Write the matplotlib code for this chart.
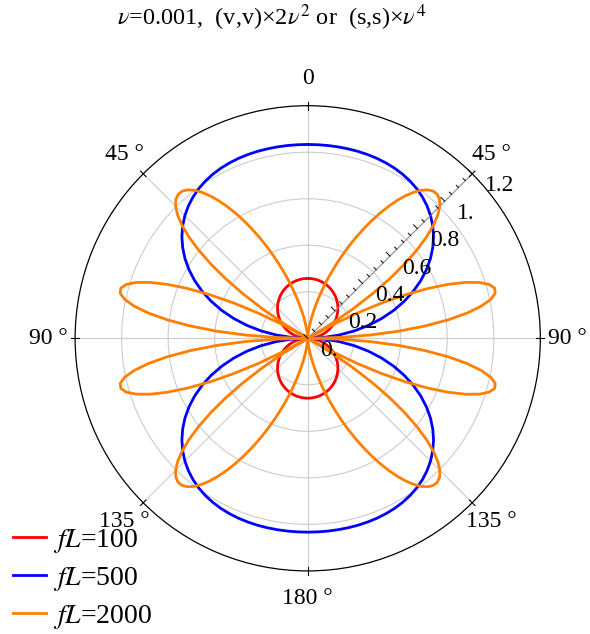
import numpy as np
import matplotlib
matplotlib.use("Agg")
import matplotlib.pyplot as plt
import matplotlib.transforms as mtransforms

plt.rcParams['font.family'] = ['Liberation Serif', 'DejaVu Serif']
plt.rcParams['mathtext.fontset'] = 'stix'

# angle from the vertical (deg), one quadrant; the pattern is symmetric
theta_coarse = list(np.arange(0, 90.1, 3.0))
theta_fine = list(np.arange(0, 90.1, 1.5))
# radius, fL=100 / 500 (3 deg steps) and fL=2000 (1.5 deg steps)
r_100 = [0.3090, 0.3086, 0.3074, 0.3053, 0.3025, 0.2988, 0.2944, 0.2891, 0.2831, 0.2763,
         0.2687, 0.2604, 0.2514, 0.2417, 0.2313, 0.2203, 0.2087, 0.1964, 0.1836, 0.1703,
         0.1564, 0.1421, 0.1274, 0.1124, 0.0969, 0.0812, 0.0653, 0.0491, 0.0328, 0.0164, 0.0]
r_500 = [1.0, 1.0, 1.0, 0.9998, 0.9994, 0.9986, 0.9970, 0.9946, 0.9908, 0.9854,
         0.9779, 0.9681, 0.9553, 0.9394, 0.9197, 0.8960, 0.8679, 0.8353, 0.7976, 0.7550,
         0.7071, 0.6542, 0.5963, 0.5337, 0.4666, 0.3954, 0.3208, 0.2433, 0.1635, 0.0821, 0.0]
r_2000 = [0.0, 0.0022, 0.0086, 0.0194, 0.0344, 0.0537, 0.0773, 0.1050, 0.1369, 0.1727,
          0.2124, 0.2559, 0.3027, 0.3527, 0.4053, 0.4603, 0.5169, 0.5746, 0.6325, 0.6899,
          0.7458, 0.7992, 0.8489, 0.8935, 0.9320, 0.9631, 0.9855, 0.9979, 0.9991, 0.9881,
          0.9639, 0.9259, 0.8736, 0.8070, 0.7261, 0.6314, 0.5241, 0.4052, 0.2768, 0.1409,
          0.0, 0.1430, 0.2851, 0.4229, 0.5530, 0.6722, 0.7770, 0.8645, 0.9320, 0.9772,
          0.9985, 0.9946, 0.9651, 0.9107, 0.8320, 0.7313, 0.6105, 0.4731, 0.3230, 0.1637, 0.0]

series = [("$fL$=100", theta_coarse, r_100, "#ff0000"),
          ("$fL$=500", theta_coarse, r_500, "#0000ff"),
          ("$fL$=2000", theta_fine, r_2000, "#ff7f00")]

angle_labels = ["0", "45 °", "90 °", "135 °", "180 °", "135 °", "90 °", "45 °"]
rtick_vals = [0.0, 0.2, 0.4, 0.6, 0.8, 1.0, 1.2]
rtick_text = ["0.", "0.2", "0.4", "0.6", "0.8", "1.", "1.2"]
title = r"$\nu$=0.001,  (v,v)×2$\nu^2$ or  (s,s)×$\nu^4$"


def full_circle(t, q):
    # mirror one quadrant about the vertical and horizontal axes
    t = np.asarray(t)
    q = np.asarray(q)
    tt = np.concatenate([t, 180 - t[::-1][1:], 180 + t[1:], 360 - t[::-1][1:]])
    rr = np.concatenate([q, q[::-1][1:], q[1:], q[::-1][1:]])
    return np.deg2rad(tt), rr


rmax = 1.2
fig = plt.figure(figsize=(5.9, 6.34), dpi=100)
rect = [0.1273, 0.0995, 0.7885, 0.7338]
ax = fig.add_axes(rect, projection="polar")
ax.set_theta_zero_location("N")
ax.set_theta_direction(-1)
ax.set_rlim(0, rmax)
ax.set_rgrids([0.24, 0.48, 0.72, 0.96], labels=[""] * 4)
ax.set_thetagrids(range(0, 360, 45), labels=[""] * 8)
ax.grid(color="#cccccc", lw=0.8)
ax.spines["polar"].set_color("black")
ax.spines["polar"].set_linewidth(0.9)

lines = []
for lab, tq, rq, col in series:
    th, rr = full_circle(tq, rq)
    ln, = ax.plot(th, rr, color=col, lw=2.0, label=lab)
    lines.append(ln)

for k, lab in enumerate(angle_labels):
    ax.text(np.deg2rad(45 * k), 1.34, lab, ha="center", va="center", fontsize=17)

# overlay for the radial axis and frame ticks
ov = fig.add_axes(rect)
ov.set_xlim(-rmax, rmax)
ov.set_ylim(-rmax, rmax)
ov.axis("off")
ov.patch.set_alpha(0)

d = np.array([np.sin(np.pi / 4), np.cos(np.pi / 4)])
perp = np.array([-d[1], d[0]])
ov.plot([0, rmax * d[0]], [0, rmax * d[1]], color="#999999", lw=0.8)
for v in np.arange(0, 1.2001, 0.05):
    major = abs(v / 0.2 - round(v / 0.2)) < 1e-6
    ln_ = 0.028 if major else 0.016
    p = v * d
    q = p + ln_ * perp
    ov.plot([p[0], q[0]], [p[1], q[1]], color="black", lw=0.7)

off = mtransforms.offset_copy(ov.transData, fig=fig, x=12.5, y=-12, units="dots")
for v, t in zip(rtick_vals, rtick_text):
    p = v * d
    ov.text(p[0], p[1], t, transform=off, ha="left", va="center", fontsize=17)

for k in range(8):
    a = np.deg2rad(45 * k)
    u = np.array([np.sin(a), np.cos(a)])
    p0 = (rmax - 0.02) * u
    p1 = (rmax + 0.02) * u
    ov.plot([p0[0], p1[0]], [p0[1], p1[1]], color="black", lw=0.8, clip_on=False)

fig.text(272 / 590, 1 - 18 / 634, title, ha="center", va="center", fontsize=17.5)

fig.legend(handles=lines, loc="lower left", bbox_to_anchor=(0.022, 0.005),
           frameon=False, fontsize=20, handlelength=1.19, handletextpad=0.25,
           labelspacing=0.36, borderpad=0, borderaxespad=0)

fig.savefig("out.png", dpi=100)
